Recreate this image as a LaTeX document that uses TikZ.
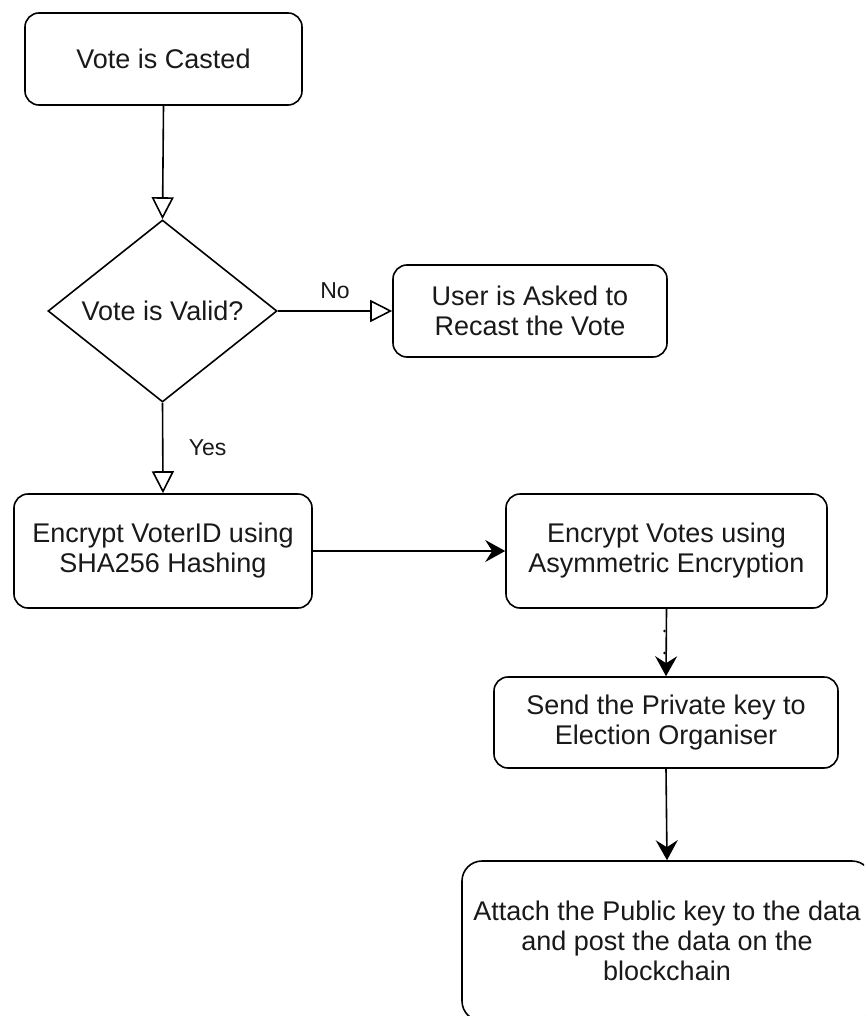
\documentclass[tikz,border=0pt]{standalone}
\usepackage{fontspec}
\setmainfont{Liberation Sans}
\usetikzlibrary{shapes.geometric,arrows.meta}

\begin{document}
\begin{tikzpicture}[x=1pt,y=-1pt,
  every node/.style={font=\fontsize{27}{30}\selectfont, text=black!90},
  proc/.style={draw, line width=1.6pt, rectangle, rounded corners=14pt,
    align=center, inner sep=0pt},
  decision/.style={draw, line width=1.6pt, diamond, aspect=1.258,
    minimum width=229pt, minimum height=182pt, inner sep=0pt, align=center},
  openarrow/.style={line width=1.6pt,
    -{Triangle[open, length=22pt, width=22pt, fill=white]}},
  solidarrow/.style={line width=1.6pt,
    -{Stealth[length=20pt, width=22pt, inset=7pt]}},
  edgelabel/.style={font=\fontsize{23}{26}\selectfont}
]
\clip (0,0) rectangle (864,1016);
\fill[white] (0,0) rectangle (864,1016);

% flow nodes
\node[proc, minimum width=277pt, minimum height=92pt] (cast) at (163.5,59) {Vote is Casted};
\node[decision] (valid) at (162.5,311) {Vote is Valid?};
\node[proc, minimum width=274pt, minimum height=92pt] (recast) at (530,311)
  {User is Asked to\\Recast the Vote};
\node[proc, minimum width=298pt, minimum height=114pt] (hashid) at (163,551)
  {Encrypt VoterID using\\SHA256 Hashing};
\node[proc, minimum width=321pt, minimum height=114pt] (encvote) at (666.5,551)
  {Encrypt Votes using\\Asymmetric Encryption};
\node[proc, minimum width=344pt, minimum height=91pt] (sendkey) at (666,722.5)
  {Send the Private key to\\Election Organiser};
\node[proc, rounded corners=20pt, minimum width=410pt, minimum height=160pt] (attach) at (667,941)
  {Attach the Public key to the data\\and post the data on the\\blockchain};

% connectors
\draw[openarrow] (cast.south) -- (valid.north);
\draw[openarrow] (valid.east) -- node[edgelabel, above=8pt, pos=0.5] {No} (recast.west);
\draw[openarrow] (valid.south) -- node[edgelabel, right=22pt, pos=0.5] {Yes} (hashid.north);
\draw[solidarrow] (hashid.east) -- (encvote.west);
\draw[solidarrow] (encvote.south) -- (sendkey.north);
\draw[solidarrow] (sendkey.south) -- (attach.north);

% small waypoint marks on the vertical connector
\coordinate (wp1) at (664.5,631);
\coordinate (wp2) at (664.5,653);
\fill (wp1) circle (1.3pt);
\fill (wp2) circle (1.3pt);
\end{tikzpicture}
\end{document}
